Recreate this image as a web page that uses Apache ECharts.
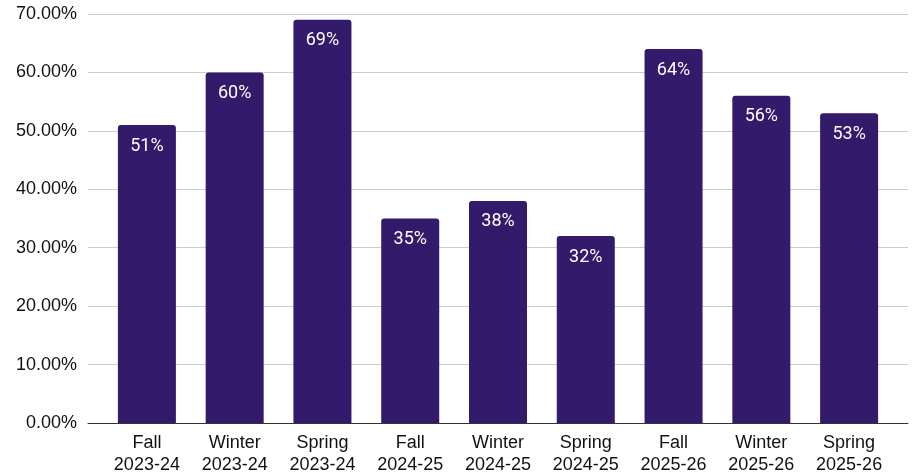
<!DOCTYPE html>
<html><head><meta charset="utf-8">
<script src="https://cdn.jsdelivr.net/npm/echarts@6/dist/echarts.min.js"></script>
<style>html,body{margin:0;padding:0;background:#fff}#c{width:912px;height:476px}</style>
</head><body><div id="c"></div>
<script>
const categories = ["Fall\n2023-24","Winter\n2023-24","Spring\n2023-24","Fall\n2024-25","Winter\n2024-25","Spring\n2024-25","Fall\n2025-26","Winter\n2025-26","Spring\n2025-26"];
const values = [51, 60, 69, 35, 38, 32, 64, 56, 53];
const yTicks = [0, 10, 20, 30, 40, 50, 60, 70];
const axisFont = 'Liberation Sans, Arial, sans-serif';
const chart = echarts.init(document.getElementById('c'), null, {renderer:'canvas'});
const yMin = yTicks[0], yMax = yTicks[yTicks.length-1];
chart.setOption({
  animation:false,
  grid:[
    {left:88,right:4,top:14,bottom:53,containLabel:false},
    {left:103,right:19,top:14,bottom:53,containLabel:false}
  ],
  xAxis:[
    {type:'value',gridIndex:0,min:0,max:1,
      axisLine:{show:true,lineStyle:{color:'#333',width:1}},axisTick:{show:false},
      axisLabel:{show:false},splitLine:{show:false}},
    {type:'category',gridIndex:1,data:categories,
      axisLine:{show:false},axisTick:{show:false},
      axisLabel:{color:'#111',fontSize:18,fontFamily:axisFont,lineHeight:22,margin:9,interval:0}}
  ],
  yAxis:[
    {type:'value',gridIndex:0,min:yMin,max:yMax,interval:10,
      axisLine:{show:false},axisTick:{show:false},
      splitLine:{lineStyle:{color:'#cccccc',width:1}},
      axisLabel:{color:'#111',fontSize:18,fontFamily:axisFont,margin:11,formatter:v=>v.toFixed(2)+'%'}},
    {type:'value',gridIndex:1,min:yMin,max:yMax,interval:10,show:false,splitLine:{show:false}}
  ],
  series:[{type:'bar',xAxisIndex:1,yAxisIndex:1,data:values,barWidth:58,
    itemStyle:{color:'#331a6b',borderRadius:[3,3,0,0]},
    label:{show:true,position:'insideTop',distance:12,color:'#fff',fontSize:18,fontFamily:'Roboto, Arial, sans-serif',formatter:p=>p.value+'%'}}]
});
</script></body></html>
